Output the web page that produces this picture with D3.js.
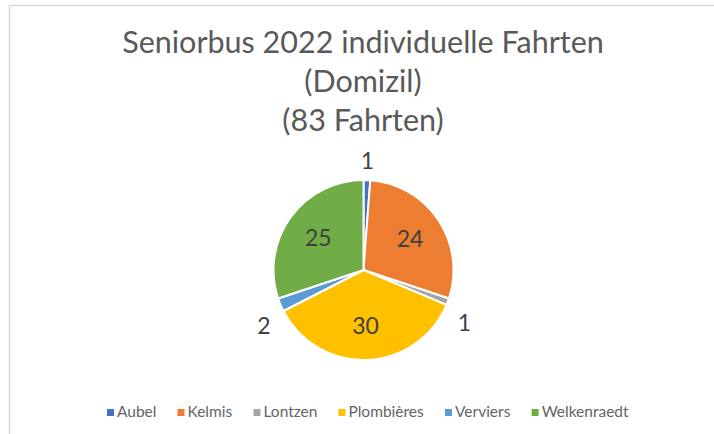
<!DOCTYPE html>
<html>
<head>
<meta charset="utf-8">
<script src="https://cdn.jsdelivr.net/npm/d3@7"></script>
<style>
  body { margin: 0; background: #fff; }
  text { font-family: Lato, 'Open Sans', sans-serif; }
</style>
</head>
<body>
<div id="chart"></div>
<script>
const width = 714
const height = 434

const titleLines = ['Seniorbus 2022 individuelle Fahrten', '(Domizil)', '(83 Fahrten)']
const places = ['Aubel', 'Kelmis', 'Lontzen', 'Plombières', 'Verviers', 'Welkenraedt']
const trips = [1, 24, 1, 30, 2, 25]
const colors = ['#4472C4', '#ED7D31', '#A5A5A5', '#FFC000', '#5B9BD5', '#70AD47']

const data = places.map((p, i) => ({ place: p, value: trips[i] }))

const svg = d3
  .select('#chart')
  .append('svg')
  .attr('width', width)
  .attr('height', height)

// chart frame (runs off right and bottom edge like the screenshot)
svg
  .append('rect')
  .attr('x', 9.5)
  .attr('y', 5.5)
  .attr('width', width + 20)
  .attr('height', height + 20)
  .attr('fill', 'white')
  .attr('stroke', '#D9D9D9')
  .attr('stroke-width', 1.5)

const cx = 363.5
const cy = 270
const radius = 90

svg
  .selectAll('.title')
  .data(titleLines)
  .enter()
  .append('text')
  .attr('class', 'title')
  .attr('x', 363)
  .attr('y', (d, i) => 53 + i * 39)
  .attr('text-anchor', 'middle')
  .attr('font-size', 30.5)
  .attr('fill', '#595959')
  .text(d => d)

const pie = d3.pie().sort(null).value(d => d.value)
const arcs = pie(data)

const arc = d3.arc().innerRadius(0).outerRadius(radius)
const labelArc = d3.arc().innerRadius(radius * 0.62).outerRadius(radius * 0.62)

const g = svg.append('g').attr('transform', `translate(${cx},${cy})`)

g.selectAll('.slice')
  .data(arcs)
  .enter()
  .append('path')
  .attr('class', 'slice')
  .attr('d', arc)
  .attr('fill', (d, i) => colors[i])
  .attr('stroke', 'white')
  .attr('stroke-width', 2)
  .attr('stroke-linejoin', 'round')

// small slices get their label outside
const outside = d => (d.endAngle - d.startAngle) < 0.3

g.selectAll('.label')
  .data(arcs)
  .enter()
  .append('text')
  .attr('class', 'label')
  .attr('font-size', 23)
  .attr('fill', '#404040')
  .each(function (d) {
    const t = d3.select(this)
    const mid = (d.startAngle + d.endAngle) / 2
    const s = Math.sin(mid)
    const c = Math.cos(mid)
    if (!outside(d)) {
      const [x, y] = labelArc.centroid(d)
      t.attr('x', x).attr('y', y).attr('text-anchor', 'middle').attr('dy', '0.36em')
    } else {
      const r = radius * 1.12
      const x = r * s
      const y = -r * c
      t.attr('x', x).attr('y', y)
        .attr('text-anchor', Math.abs(s) < 0.3 ? 'middle' : (s > 0 ? 'start' : 'end'))
        .attr('dy', c > 0.3 ? '0em' : (c < -0.2 ? '1.1em' : '0.36em'))
    }
  })
  .text(d => d.data.value)

// legend
const legend = svg.append('g').attr('class', 'legend')
const items = legend
  .selectAll('.item')
  .data(data)
  .enter()
  .append('g')
  .attr('class', 'item')

items
  .append('rect')
  .attr('width', 7)
  .attr('height', 7)
  .attr('y', -8)
  .attr('fill', (d, i) => colors[i])

items
  .append('text')
  .attr('x', 10)
  .attr('font-size', 15.5)
  .attr('fill', '#646464')
  .text(d => d.place)

let offset = 0
const gap = 21
items.each(function () {
  const w = this.getBBox().width
  d3.select(this).attr('transform', `translate(${offset},0)`)
  offset += w + gap
})
const total = offset - gap
legend.attr('transform', `translate(${368 - total / 2},417)`)
</script>
</body>
</html>
